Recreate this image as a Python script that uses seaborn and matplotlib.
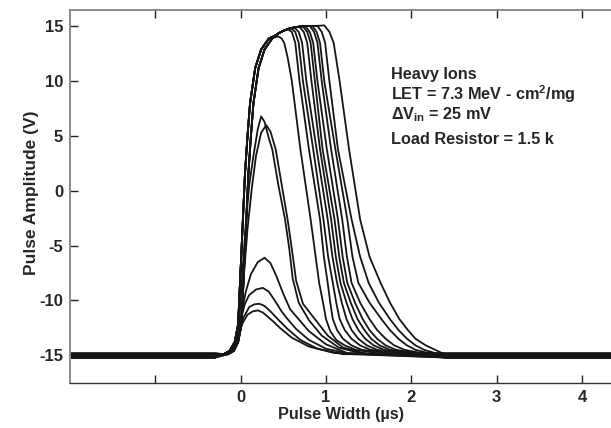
import numpy as np
import pandas as pd
import seaborn as sns
import matplotlib.pyplot as plt

sns.set_style('ticks')
plt.rcParams['font.family'] = ['Liberation Sans', 'DejaVu Sans']
plt.rcParams['font.weight'] = 'bold'
plt.rcParams['axes.labelweight'] = 'bold'
plt.rcParams['axes.unicode_minus'] = False
plt.rcParams['mathtext.fontset'] = 'custom'
plt.rcParams['mathtext.rm'] = 'Liberation Sans:bold'
plt.rcParams['mathtext.it'] = 'Liberation Sans:bold'
plt.rcParams['mathtext.bf'] = 'Liberation Sans:bold'

"""Waveform data read off the scope plot (x in us, y in V)"""
x_start = [-2.0, -0.3]
x_end = [2.4, 4.35]
bases = [-15.2, -14.85, -15.0]

# shared rising edge (two slightly shifted traces make the thick band)
rise_a_x = [-0.2, -0.13, -0.07, -0.03, 0.01, 0.05, 0.08, 0.11, 0.17, 0.24, 0.33]
rise_b_x = [-0.15, -0.08, -0.03, 0.01, 0.05, 0.09, 0.12, 0.15, 0.21, 0.28, 0.37]
rise_y = [-14.9, -14.6, -13.8, -12.2, -5.4, 1.5, 5.0, 8.0, 11.2, 12.9, 13.9]

# saturated top
plateau_x = [0.40, 0.45, 0.50, 0.56, 0.62, 0.70, 0.80, 0.90]
plateau_y = [14.15, 14.4, 14.6, 14.78, 14.9, 15.0, 15.05, 15.05]

# earliest full pulse
c1_x = [0.40, 0.44, 0.48, 0.51, 0.55, 0.60, 0.70, 0.82, 0.92, 0.97, 1.00, 1.05,
        1.12, 1.22, 1.35, 1.6]
c1_y = [14.0, 14.1, 13.9, 13.5, 12.2, 10.0, 3.8, -2.6, -8.4, -10.4, -11.7, -12.8,
        -13.6, -14.1, -14.5, -14.8]

# remaining full pulses: where each leaves the top, then x at each fall level
full_top_x = [0.55, 0.59, 0.63, 0.69, 0.73, 0.76, 0.81, 0.84, 0.90, 0.98]
full_top_y = [14.75, 14.85, 14.9, 14.95, 15.0, 15.0, 15.05, 15.05, 15.05, 15.1]
fall_levels = [14.5, 13.5, 10.0, 3.8, -2.6, -6.0, -8.4, -10.2, -11.7, -12.7,
               -13.5, -14.1, -14.5, -14.8]
full_fall_x = [
    [0.60, 0.64, 0.69, 0.80, 0.93, 0.975, 1.02, 1.05, 1.08, 1.13, 1.20, 1.30, 1.42, 1.75],
    [0.64, 0.68, 0.73, 0.85, 0.97, 1.025, 1.08, 1.12, 1.16, 1.22, 1.30, 1.40, 1.52, 1.82],
    [0.68, 0.72, 0.77, 0.89, 1.02, 1.075, 1.13, 1.185, 1.24, 1.30, 1.38, 1.48, 1.60, 1.88],
    [0.74, 0.78, 0.83, 0.93, 1.06, 1.115, 1.17, 1.24, 1.31, 1.38, 1.46, 1.56, 1.68, 1.95],
    [0.78, 0.82, 0.87, 0.96, 1.10, 1.155, 1.21, 1.29, 1.37, 1.45, 1.53, 1.63, 1.75, 2.00],
    [0.81, 0.85, 0.90, 1.01, 1.14, 1.195, 1.25, 1.34, 1.43, 1.51, 1.60, 1.70, 1.82, 2.05],
    [0.86, 0.90, 0.95, 1.06, 1.19, 1.245, 1.30, 1.40, 1.51, 1.60, 1.70, 1.80, 1.92, 2.12],
    [0.89, 0.93, 0.98, 1.11, 1.25, 1.31, 1.38, 1.51, 1.65, 1.75, 1.85, 1.95, 2.05, 2.20],
    [0.95, 0.99, 1.04, 1.14, 1.30, 1.40, 1.50, 1.62, 1.75, 1.85, 1.95, 2.05, 2.15, 2.28],
    [1.04, 1.09, 1.16, 1.27, 1.40, 1.51, 1.64, 1.75, 1.86, 1.96, 2.05, 2.17, 2.28, 2.36],
]

# small (non-saturating) pulses
small_x = [
    [-0.2, -0.12, -0.06, -0.02, 0.02, 0.06, 0.1, 0.15, 0.2, 0.24, 0.28, 0.33, 0.37, 0.44,
     0.52, 0.57, 0.61, 0.68, 0.8, 0.95, 1.15, 1.45],
    [-0.18, -0.1, -0.04, 0.0, 0.04, 0.08, 0.13, 0.18, 0.24, 0.30, 0.35, 0.41, 0.48,
     0.55, 0.60, 0.65, 0.73, 0.88, 1.02, 1.2, 1.5],
    [-0.2, -0.12, -0.06, -0.02, 0.02, 0.06, 0.12, 0.2, 0.28, 0.35, 0.42, 0.5, 0.58,
     0.69, 0.8, 1.0, 1.25],
    [-0.2, -0.12, -0.06, -0.02, 0.02, 0.05, 0.1, 0.18, 0.26, 0.33, 0.4, 0.48, 0.55,
     0.65, 0.8, 1.0, 1.3],
    [-0.2, -0.12, -0.06, -0.02, 0.03, 0.1, 0.16, 0.22, 0.28, 0.35, 0.41, 0.46, 0.55,
     0.7, 0.9, 1.2],
    [-0.2, -0.12, -0.06, -0.03, 0.02, 0.08, 0.14, 0.2, 0.26, 0.32, 0.38, 0.46, 0.6,
     0.8, 1.1],
]
small_y = [
    [-14.9, -14.6, -13.9, -12.4, -7.5, -3.0, 0.5, 3.2, 5.6, 6.8, 6.3, 4.8, 3.8, 0.6,
     -2.6, -5.3, -8.0, -10.2, -11.8, -13.2, -14.3, -14.9],
    [-14.9, -14.6, -13.9, -12.2, -7.5, -3.5, 0.2, 3.2, 5.3, 6.0, 5.4, 3.8, 0.6,
     -2.6, -5.3, -8.2, -10.3, -11.8, -13.2, -14.3, -14.9],
    [-14.9, -14.6, -13.9, -12.6, -10.8, -9.2, -7.6, -6.5, -6.1, -6.6, -7.8, -9.4, -10.8,
     -11.8, -12.8, -14.0, -14.8],
    [-14.9, -14.6, -13.9, -12.8, -11.2, -10.3, -9.5, -9.0, -8.85, -9.2, -10.0, -11.0, -11.7,
     -12.6, -13.6, -14.4, -14.9],
    [-14.9, -14.6, -13.9, -13.0, -11.6, -10.6, -10.35, -10.3, -10.5, -11.0, -11.5, -11.9,
     -12.6, -13.6, -14.4, -14.9],
    [-14.9, -14.6, -14.0, -13.3, -12.1, -11.3, -11.0, -10.9, -11.1, -11.5, -11.9, -12.5,
     -13.4, -14.2, -14.8],
]

"""Build long-form table, one unit per trace"""
rows = []


def add_trace(cid, xs, ys, base):
    xs = x_start + list(xs) + x_end
    ys = [base, base] + list(ys) + [base, base]
    for x, y in zip(xs, ys):
        rows.append({'trace': cid, 'x': x, 'y': y})


add_trace(0, rise_a_x + c1_x, rise_y + c1_y, bases[0])
for i in range(len(full_top_x)):
    rx = rise_b_x if i % 2 == 0 else rise_a_x
    px = [p for p in plateau_x if p < full_top_x[i]]
    py = plateau_y[:len(px)]
    xs = rx + px + [full_top_x[i]] + full_fall_x[i]
    ys = rise_y + py + [full_top_y[i]] + fall_levels
    add_trace(i + 1, xs, ys, bases[(i + 1) % 3])
for j in range(len(small_x)):
    add_trace(20 + j, small_x[j], small_y[j], bases[j % 3])

df = pd.DataFrame(rows)

"""Figure"""
fig = plt.figure(figsize=(6.11, 4.28), dpi=100)
ax = fig.add_axes([70 / 611, 1 - 382.7 / 428, 1 - 70 / 611, 372.7 / 428])

sns.lineplot(data=df, x='x', y='y', units='trace', estimator=None, sort=False,
             color='#151515', linewidth=1.3, ax=ax, legend=False)

ax.set_xlim(-2.0, 4.34)
ax.set_ylim(-17.5, 16.5)
ax.set_xticks([-1, 0, 1, 2, 3, 4])
ax.set_xticklabels(['', '0', '1', '2', '3', '4'])
ax.set_yticks([-15, -10, -5, 0, 5, 10, 15])
ax.set_xlabel('Pulse Width (\u00b5s)', fontsize=11.7, labelpad=2)
ax.set_ylabel('Pulse Amplitude (V)', fontsize=12.5)
ax.yaxis.set_label_coords(-0.057, 0.51)
ax.tick_params(direction='in', length=6, width=1, top=True, right=False,
               labelsize=12, pad=5, color='#222222')

for s in ['top', 'left']:
    ax.spines[s].set_color('#8a8a8a')
    ax.spines[s].set_linewidth(1.4)
ax.spines['bottom'].set_color('#333333')
ax.spines['bottom'].set_linewidth(1.0)
ax.spines['right'].set_visible(False)

"""Annotation block"""
tx = 390.7 / 611
lines = ['Heavy Ions',
         'LET = 7.3 MeV - cm$^{2}$/mg',
         '\u0394V$_{in}$ = 25 mV',
         'Load Resistor = 1.5 k']
baselines = [79, 100, 119, 144]
for t, b in zip(lines, baselines):
    fig.text(tx, 1 - b / 428, t, fontsize=11.7, fontweight='bold', va='baseline', ha='left')

fig.savefig('out.png', dpi=100)
